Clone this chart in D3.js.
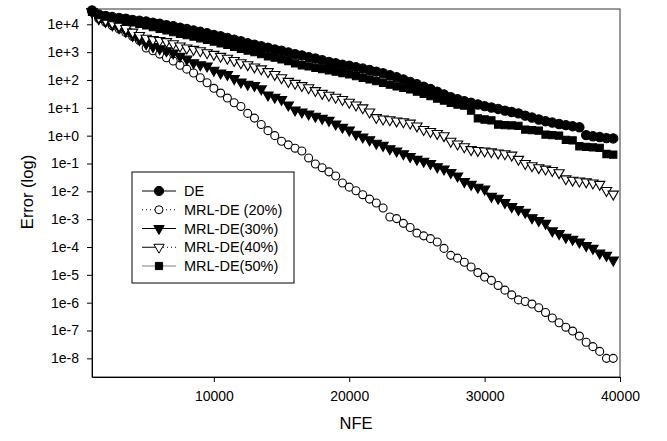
<!DOCTYPE html>
<html>
<head>
<meta charset="utf-8">
<script src="https://cdn.jsdelivr.net/npm/d3@7"></script>
<style>
  body { margin: 0; background: #fff; }
  text { font-family: "Liberation Sans", Arial, sans-serif; fill: #000; }
</style>
</head>
<body>
<div id="chart"></div>
<script>
// NFE values (x)
var nfe = [1000, 1500, 2000, 2500, 3000, 3500, 4000, 4500, 5000, 5500,
  6000, 6500, 7000, 7500, 8000, 8500, 9000, 9500, 10000, 10500,
  11000, 11500, 12000, 12500, 13000, 13500, 14000, 14500, 15000, 15500,
  16000, 16500, 17000, 17500, 18000, 18500, 19000, 19500, 20000, 20500,
  21000, 21500, 22000, 22500, 23000, 23500, 24000, 24500, 25000, 25500,
  26000, 26500, 27000, 27500, 28000, 28500, 29000, 29500, 30000, 30500,
  31000, 31500, 32000, 32500, 33000, 33500, 34000, 34500, 35000, 35500,
  36000, 36500, 37000, 37500, 38000, 38500, 39000, 39500];

// error values, stored as log10(error)
var deLog = [4.50, 4.35, 4.30, 4.26, 4.23, 4.20, 4.16, 4.13, 4.10, 4.06,
  4.02, 3.97, 3.93, 3.88, 3.83, 3.78, 3.73, 3.68, 3.62, 3.57,
  3.51, 3.45, 3.39, 3.32, 3.27, 3.21, 3.16, 3.10, 3.05, 2.99,
  2.93, 2.88, 2.82, 2.77, 2.71, 2.65, 2.60, 2.55, 2.51, 2.46,
  2.41, 2.36, 2.30, 2.24, 2.17, 2.10, 2.02, 1.93, 1.85, 1.76,
  1.68, 1.58, 1.48, 1.38, 1.31, 1.24, 1.18, 1.12, 1.06, 1.01,
  0.96, 0.90, 0.85, 0.80, 0.72, 0.65, 0.58, 0.52, 0.47, 0.42,
  0.38, 0.34, 0.30, 0.02, -0.02, -0.05, -0.09, -0.10];

var mrl20Log = [4.45, 4.20, 4.07, 3.95, 3.83, 3.70, 3.56, 3.42, 3.15, 3.05,
  2.93, 2.80, 2.68, 2.53, 2.39, 2.25, 2.08, 1.90, 1.70, 1.53,
  1.35, 1.18, 1.05, 0.80, 0.63, 0.40, 0.18, 0.00, -0.20, -0.33,
  -0.45, -0.55, -0.80, -1.02, -1.15, -1.30, -1.45, -1.70, -1.85, -1.98,
  -2.12, -2.28, -2.42, -2.60, -2.92, -2.98, -3.15, -3.30, -3.50, -3.60,
  -3.70, -3.82, -4.05, -4.30, -4.40, -4.55, -4.72, -4.92, -5.08, -5.20,
  -5.38, -5.55, -5.72, -5.90, -5.96, -6.05, -6.18, -6.35, -6.55, -6.72,
  -6.88, -7.02, -7.20, -7.42, -7.58, -7.75, -8.00, -8.00];

var mrl30Log = [4.45, 4.20, 4.10, 3.98, 3.88, 3.75, 3.60, 3.45, 3.30, 3.20,
  3.12, 3.05, 2.97, 2.85, 2.75, 2.62, 2.55, 2.50, 2.35, 2.25,
  2.20, 2.05, 1.93, 1.85, 1.80, 1.68, 1.46, 1.38, 1.30, 1.10,
  0.92, 0.85, 0.78, 0.70, 0.62, 0.55, 0.42, 0.30, 0.20, 0.05,
  -0.05, -0.15, -0.27, -0.35, -0.47, -0.55, -0.65, -0.75, -0.85, -0.92,
  -1.00, -1.12, -1.20, -1.32, -1.45, -1.65, -1.75, -1.85, -1.92, -2.18,
  -2.25, -2.40, -2.55, -2.65, -2.75, -2.95, -3.05, -3.15, -3.42, -3.52,
  -3.65, -3.72, -3.82, -3.95, -4.05, -4.22, -4.30, -4.47];

var mrl40Log = [4.45, 4.25, 4.15, 4.05, 3.95, 3.85, 3.72, 3.60, 3.50, 3.45,
  3.42, 3.38, 3.30, 3.22, 3.15, 3.10, 3.05, 2.98, 2.92, 2.85,
  2.78, 2.70, 2.62, 2.55, 2.47, 2.40, 2.30, 2.20, 2.08, 1.95,
  1.88, 1.80, 1.72, 1.62, 1.52, 1.45, 1.38, 1.30, 1.20, 1.10,
  1.00, 0.85, 0.65, 0.60, 0.57, 0.53, 0.50, 0.45, 0.35, 0.22,
  0.15, 0.08, 0.00, -0.20, -0.30, -0.40, -0.50, -0.53, -0.55, -0.58,
  -0.62, -0.65, -0.70, -0.85, -1.00, -1.08, -1.15, -1.20, -1.25, -1.33,
  -1.55, -1.60, -1.63, -1.66, -1.70, -1.75, -1.97, -2.10];

var mrl50Log = [4.45, 4.33, 4.28, 4.22, 4.17, 4.12, 4.07, 4.02, 3.96, 3.90,
  3.84, 3.78, 3.72, 3.66, 3.61, 3.56, 3.50, 3.44, 3.38, 3.32,
  3.26, 3.19, 3.12, 3.06, 3.00, 2.93, 2.85, 2.80, 2.74, 2.68,
  2.60, 2.53, 2.49, 2.44, 2.39, 2.35, 2.30, 2.25, 2.20, 2.14,
  2.08, 2.02, 1.96, 1.90, 1.83, 1.77, 1.72, 1.66, 1.58, 1.50,
  1.42, 1.33, 1.26, 1.18, 1.12, 1.08, 0.90, 0.62, 0.58, 0.55,
  0.40, 0.38, 0.37, 0.35, 0.22, 0.20, 0.18, 0.04, 0.02, 0.00,
  -0.15, -0.17, -0.38, -0.40, -0.42, -0.44, -0.66, -0.68];

var seriesNames = ["DE", "MRL-DE (20%)", "MRL-DE(30%)", "MRL-DE(40%)", "MRL-DE(50%)"];
var xTicks = [10000, 20000, 30000, 40000];
var yTicks = [1e4, 1e3, 1e2, 1e1, 1e0, 1e-1, 1e-2, 1e-3, 1e-4, 1e-5, 1e-6, 1e-7, 1e-8];
var yTickLabels = ["1e+4", "1e+3", "1e+2", "1e+1", "1e+0", "1e-1", "1e-2", "1e-3", "1e-4", "1e-5", "1e-6", "1e-7", "1e-8"];

(function() {
  var width = 667, height = 441;
  var pl = 92, pr = 620, pt = 9, pb = 377;

  var svg = d3.select("#chart").append("svg").attr("width", width).attr("height", height);

  var x = d3.scaleLinear().domain([1000, 40000]).range([pl, pr]);
  var y = d3.scaleLog().domain([Math.pow(10, -8.67), Math.pow(10, 4.55)]).range([pb, pt]);

  // series styling
  var styles = [
    { data: deLog,    symbol: d3.symbolCircle,   size: 68, fill: "#000", rot: 0,   line: "#000", dash: null },
    { data: mrl20Log, symbol: d3.symbolCircle,   size: 50, fill: "#fff", rot: 0,   line: "#000", dash: "1,3" },
    { data: mrl30Log, symbol: d3.symbolTriangle, size: 46, fill: "#000", rot: 180, line: "#000", dash: null },
    { data: mrl40Log, symbol: d3.symbolTriangle, size: 46, fill: "#fff", rot: 180, line: "#000", dash: "12,3,1,3,1,3" },
    { data: mrl50Log, symbol: d3.symbolSquare,   size: 52, fill: "#000", rot: 0,   line: "#808080", dash: null }
  ];

  // frame
  svg.append("rect").attr("x", pl).attr("y", pt).attr("width", pr - pl).attr("height", pb - pt)
    .attr("fill", "none").attr("stroke", "#333").attr("stroke-width", 1);

  var plot = svg.append("g");

  styles.forEach(function(s) {
    var pts = s.data.map(function(v, i) { return [nfe[i], Math.pow(10, v)]; });
    var line = d3.line().x(function(d) { return x(d[0]); }).y(function(d) { return y(d[1]); });
    plot.append("path").datum(pts).attr("d", line)
      .attr("fill", "none").attr("stroke", s.line).attr("stroke-width", 1)
      .attr("stroke-dasharray", s.dash);
    plot.selectAll(null).data(pts).enter().append("path")
      .attr("d", d3.symbol().type(s.symbol).size(s.size))
      .attr("transform", function(d) { return "translate(" + x(d[0]) + "," + y(d[1]) + ") rotate(" + s.rot + ")"; })
      .attr("fill", s.fill).attr("stroke", "#000").attr("stroke-width", 1.1);
  });

  // axes
  var xAxis = d3.axisBottom(x).tickValues(xTicks).tickSize(5).tickSizeOuter(0).tickPadding(9)
    .tickFormat(d3.format("d"));
  var gx = svg.append("g").attr("transform", "translate(0," + pb + ")").call(xAxis);
  gx.select(".domain").attr("stroke", "#000");
  gx.selectAll("text").style("font-size", "14px").attr("font-family", null);

  var yAxis = d3.axisLeft(y).tickValues(yTicks).tickSize(5).tickSizeOuter(0).tickPadding(8)
    .tickFormat(function(d, i) { return yTickLabels[i]; });
  var gy = svg.append("g").attr("transform", "translate(" + pl + ",0)").call(yAxis);
  gy.select(".domain").attr("stroke", "#000");
  gy.selectAll("text").style("font-size", "14px").attr("font-family", null);
  svg.selectAll(".tick line").attr("stroke", "#000");

  // axis titles
  svg.append("text").attr("x", 356).attr("y", 429).attr("text-anchor", "middle")
    .style("font-size", "16.5px").text("NFE");
  svg.append("text").attr("transform", "translate(33,192) rotate(-90)").attr("text-anchor", "middle")
    .style("font-size", "16.5px").text("Error (log)");

  // legend
  var lg = svg.append("g");
  lg.append("rect").attr("x", 132).attr("y", 172).attr("width", 162).attr("height", 111)
    .attr("fill", "#fff").attr("stroke", "#000").attr("stroke-width", 1);
  var rowY = d3.scaleLinear().domain([0, 4]).range([191, 266]);
  styles.forEach(function(s, i) {
    var yy = rowY(i);
    if (i === 3) {
      lg.append("line").attr("x1", 142).attr("x2", 159).attr("y1", yy).attr("y2", yy).attr("stroke", "#000");
      lg.append("line").attr("x1", 159).attr("x2", 176).attr("y1", yy).attr("y2", yy).attr("stroke", "#000")
        .attr("stroke-dasharray", "1,3");
    } else {
      lg.append("line").attr("x1", 142).attr("x2", 176).attr("y1", yy).attr("y2", yy)
        .attr("stroke", s.line).attr("stroke-dasharray", s.dash);
    }
    lg.append("path").attr("d", d3.symbol().type(s.symbol).size(s.size))
      .attr("transform", "translate(159," + yy + ") rotate(" + s.rot + ")")
      .attr("fill", s.fill).attr("stroke", "#000");
    lg.append("text").attr("x", 184).attr("y", yy + 5).style("font-size", "14.5px").text(seriesNames[i]);
  });
})();
</script>
</body>
</html>
